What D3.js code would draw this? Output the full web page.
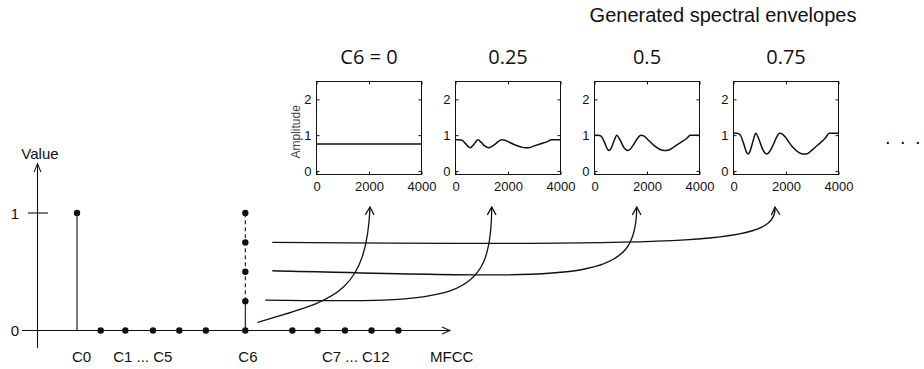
<!DOCTYPE html>
<html>
<head>
<meta charset="utf-8">
<script src="https://cdn.jsdelivr.net/npm/d3@7"></script>
<style>
  body { margin: 0; background: #fff; }
  svg { display: block; }
  text { fill: #111; }
</style>
</head>
<body>
<svg id="chart" width="924" height="369"></svg>
<script>
// ---- MFCC stem plot ----
const coefPositions = [0, 0.9, 1.84, 2.89, 3.89, 4.9, 6.4, 8.19, 9.15, 10.19, 11.2, 12.22];
const coefValues    = [1, 0, 0, 0, 0, 0, 0, 0, 0, 0, 0, 0];
const c6Index = 6;
const c6Values = [0, 0.25, 0.5, 0.75, 1];
const coefLabels  = ["C0", "C1 ... C5", "C6", "C7 ... C12"];
const coefLabelAt = [0.17, 2.5, 6.5, 10.6];
const valueTicks  = ["0", "1"];

// ---- generated spectral envelopes (amplitude vs frequency in Hz) ----
const envTitles = ["C6 = 0", "0.25", "0.5", "0.75"];
const freqs = [0, 125, 250, 375, 500, 560, 625, 750, 850, 950, 1125, 1270, 1375, 1500, 1625,
               1765, 1875, 2000, 2250, 2500, 2650, 2800, 3000, 3250, 3500, 3650, 4000];
const envC6_000 = [0.75, 0.75, 0.75, 0.75, 0.75, 0.75, 0.75, 0.75, 0.75, 0.75, 0.75, 0.75, 0.75, 0.75,
                   0.75, 0.75, 0.75, 0.75, 0.75, 0.75, 0.75, 0.75, 0.75, 0.75, 0.75, 0.75, 0.75];
const envC6_025 = [0.87, 0.87, 0.86, 0.77, 0.67, 0.65, 0.68, 0.79, 0.87, 0.82, 0.69, 0.65, 0.68, 0.74,
                   0.82, 0.87, 0.86, 0.82, 0.73, 0.67, 0.65, 0.65, 0.70, 0.76, 0.82, 0.87, 0.87];
const envC6_050 = [1.00, 1.00, 0.97, 0.81, 0.60, 0.57, 0.62, 0.85, 1.00, 0.90, 0.65, 0.57, 0.62, 0.75,
                   0.90, 1.00, 0.98, 0.90, 0.72, 0.60, 0.57, 0.58, 0.66, 0.78, 0.90, 1.00, 1.00];
const envC6_075 = [1.05, 1.05, 1.01, 0.79, 0.52, 0.47, 0.54, 0.85, 1.05, 0.92, 0.58, 0.47, 0.54, 0.71,
                   0.92, 1.05, 1.02, 0.92, 0.67, 0.51, 0.47, 0.48, 0.59, 0.75, 0.92, 1.05, 1.05];
const envelopes = [envC6_000, envC6_025, envC6_050, envC6_075];
const freqTicks = [0, 2000, 4000];
const ampTicks  = [0, 1, 2];
// frequency each arrow points at, per panel
const arrowFreq = [2040, 1380, 1610, 1580];

const svg = d3.select("#chart");
const SANS = "'Liberation Sans', Arial, Helvetica, sans-serif";
const TITLE_FONT = "'Open Sans', 'Noto Sans', sans-serif";

// ---------- main stem plot ----------
const x = d3.scaleLinear().domain([0, 12]).range([77, 392.6]);
const y = d3.scaleLinear().domain([0, 1]).range([330.5, 213]);
const main = svg.append("g");

// axes
const axisX0 = 22, axisX1 = 450;
main.append("line").attr("x1", axisX0).attr("x2", axisX1)
  .attr("y1", y(0)).attr("y2", y(0)).attr("stroke", "#111").attr("stroke-width", 1.1);
main.append("path")
  .attr("d", `M${axisX1 - 8},${y(0) - 3.6}L${axisX1},${y(0)}L${axisX1 - 8},${y(0) + 3.6}`)
  .attr("fill", "none").attr("stroke", "#111").attr("stroke-width", 1.1);
const axisY = 37.5, yTop = y(1.42), yBot = y(-0.15);
main.append("line").attr("x1", axisY).attr("x2", axisY)
  .attr("y1", yTop).attr("y2", yBot).attr("stroke", "#111").attr("stroke-width", 1.1);
main.append("path")
  .attr("d", `M${axisY - 3.4},${yTop + 8.5}L${axisY},${yTop}L${axisY + 3.4},${yTop + 8.5}`)
  .attr("fill", "none").attr("stroke", "#111").attr("stroke-width", 1.1);
main.append("line").attr("x1", 28).attr("x2", 48)
  .attr("y1", y(1)).attr("y2", y(1)).attr("stroke", "#111").attr("stroke-width", 1.1);

main.selectAll("text.vtick").data(valueTicks).join("text")
  .attr("class", "vtick")
  .attr("x", 19).attr("y", d => y(+d) + 5.5)
  .attr("text-anchor", "end")
  .style("font-family", SANS).style("font-size", "15px")
  .text(d => d);
main.append("text").attr("x", 40).attr("y", 159).attr("text-anchor", "middle")
  .style("font-family", SANS).style("font-size", "15px").text("Value");
main.append("text").attr("x", 430).attr("y", 362)
  .style("font-family", SANS).style("font-size", "15px").text("MFCC");
main.selectAll("text.clab").data(coefLabels).join("text")
  .attr("class", "clab")
  .attr("x", (d, i) => x(coefLabelAt[i])).attr("y", 362)
  .attr("text-anchor", "middle")
  .style("font-family", SANS).style("font-size", "15px")
  .text(d => d);

// stems (non-zero coefficients)
const coefs = coefPositions.map((p, i) => ({ p, v: coefValues[i], i }));
main.selectAll("line.stem").data(coefs.filter(d => d.v !== 0)).join("line")
  .attr("class", "stem")
  .attr("x1", d => x(d.p)).attr("x2", d => x(d.p))
  .attr("y1", y(0)).attr("y2", d => y(d.v))
  .attr("stroke", "#111").attr("stroke-width", 1.1);

// C6 sweep: solid up to first step, dashed beyond
const c6x = x(coefPositions[c6Index]);
main.append("line").attr("x1", c6x).attr("x2", c6x)
  .attr("y1", y(c6Values[0])).attr("y2", y(c6Values[1]))
  .attr("stroke", "#111").attr("stroke-width", 1.1);
main.append("line").attr("x1", c6x).attr("x2", c6x)
  .attr("y1", y(c6Values[1])).attr("y2", y(c6Values[c6Values.length - 1]))
  .attr("stroke", "#111").attr("stroke-width", 1.1).attr("stroke-dasharray", "4,3");

main.selectAll("circle.coef").data(coefs).join("circle")
  .attr("class", "coef")
  .attr("cx", d => x(d.p)).attr("cy", d => y(d.v)).attr("r", 3.2).attr("fill", "#111");
main.selectAll("circle.c6").data(c6Values.slice(1)).join("circle")
  .attr("class", "c6")
  .attr("cx", c6x).attr("cy", d => y(d)).attr("r", 3.2).attr("fill", "#111");

// ---------- envelope panels ----------
const panelLeft = d3.scaleLinear().domain([0, 1]).range([316.5, 455.5]);
const panelW = 105, panelTop = 81.5, panelBottom = 174.5;
const fx = [], fy = d3.scaleLinear().domain([-0.1, 2.5]).range([panelBottom, panelTop]);

svg.append("text").attr("x", 723).attr("y", 22).attr("text-anchor", "middle")
  .style("font-family", SANS).style("font-size", "20px")
  .text("Generated spectral envelopes");

envelopes.forEach((vals, k) => {
  const left = panelLeft(k);
  const sx = d3.scaleLinear().domain([0, 4000]).range([left, left + panelW]);
  fx.push(sx);
  const g = svg.append("g");

  g.append("text").attr("x", left + panelW / 2).attr("y", 63.5).attr("text-anchor", "middle")
    .style("font-family", TITLE_FONT).style("font-size", "20px").text(envTitles[k]);

  const styleAxis = sel => {
    sel.select(".domain").remove();
    sel.selectAll(".tick line").attr("stroke", "#111");
    sel.selectAll(".tick text").style("font-family", SANS).style("font-size", "13px").attr("fill", "#111");
  };
  // bottom + top (inward ticks)
  g.append("g").attr("transform", `translate(0,${panelBottom})`)
    .call(d3.axisBottom(sx).tickValues(freqTicks).tickSizeInner(-3).tickSizeOuter(0).tickPadding(7).tickFormat(d3.format("d")))
    .call(styleAxis);
  g.append("g").attr("transform", `translate(0,${panelTop})`)
    .call(d3.axisTop(sx).tickValues(freqTicks).tickSizeInner(-3).tickSizeOuter(0).tickFormat(""))
    .call(styleAxis);
  g.append("g").attr("transform", `translate(${left},0)`)
    .call(d3.axisLeft(fy).tickValues(ampTicks).tickSizeInner(-3).tickSizeOuter(0).tickPadding(5).tickFormat(d3.format("d")))
    .call(styleAxis);
  g.append("g").attr("transform", `translate(${left + panelW},0)`)
    .call(d3.axisRight(fy).tickValues(ampTicks).tickSizeInner(-3).tickSizeOuter(0).tickFormat(""))
    .call(styleAxis);
  g.append("rect").attr("x", left).attr("y", panelTop).attr("width", panelW)
    .attr("height", panelBottom - panelTop).attr("fill", "none").attr("stroke", "#111").attr("stroke-width", 1);

  const line = d3.line().x((d, i) => sx(freqs[i])).y(d => fy(d)).curve(d3.curveMonotoneX);
  g.append("path").datum(vals).attr("d", line)
    .attr("fill", "none").attr("stroke", "#111").attr("stroke-width", 1.5);

  if (k === 0) {
    g.append("text")
      .attr("transform", `translate(${left - 17},${(fy(1) + fy(1.3)) / 2 + 2}) rotate(-90)`)
      .attr("text-anchor", "middle")
      .style("font-family", SANS).style("font-size", "12px")
      .style("fill", "#444")
      .text("Amplitude");
  }
});

// continuation marks
svg.append("text").attr("x", "885 900 915").attr("y", 143.5)
  .style("font-family", SANS).style("font-size", "20px")
  .text("...");

// ---------- connectors: each C6 step to its envelope ----------
const startDx = [12, 20, 27, 27];
const startDy = [-8, -1, -1, 0];
// cubic control points as fractions of the span from start to tip
const ctrl = [
  [0.645, 0.195, 0.965, 0.212],
  [0.86, -0.027, 0.997, -0.027],
  [0.872, -0.115, 0.998, -0.224],
  [0.851, -0.076, 1.006, -0.076]
];
const tipY = panelBottom + 32.5;
c6Values.slice(0, 4).forEach((v, k) => {
  const x0 = c6x + startDx[k], y0 = y(v) + startDy[k];
  const x3 = fx[k](arrowFreq[k]), y3 = tipY;
  const dx = x3 - x0, dy = y3 - y0;
  const [a1, b1, a2, b2] = ctrl[k];
  const p = d3.path();
  p.moveTo(x0, y0);
  const c2x = x0 + a2 * dx, c2y = y0 + b2 * dy;
  p.bezierCurveTo(x0 + a1 * dx, y0 + b1 * dy, c2x, c2y, x3, y3);
  svg.append("path").attr("d", p.toString())
    .attr("fill", "none").attr("stroke", "#111").attr("stroke-width", 1.3);
  // open arrowhead aligned with the end tangent
  const ang = Math.atan2(y3 - c2y, x3 - c2x);
  const L = 9, spread = 0.5;
  const h = d3.path();
  h.moveTo(x3 - L * Math.cos(ang - spread), y3 - L * Math.sin(ang - spread));
  h.lineTo(x3, y3);
  h.lineTo(x3 - L * Math.cos(ang + spread), y3 - L * Math.sin(ang + spread));
  svg.append("path").attr("d", h.toString())
    .attr("fill", "none").attr("stroke", "#111").attr("stroke-width", 1.3);
});
</script>
</body>
</html>
